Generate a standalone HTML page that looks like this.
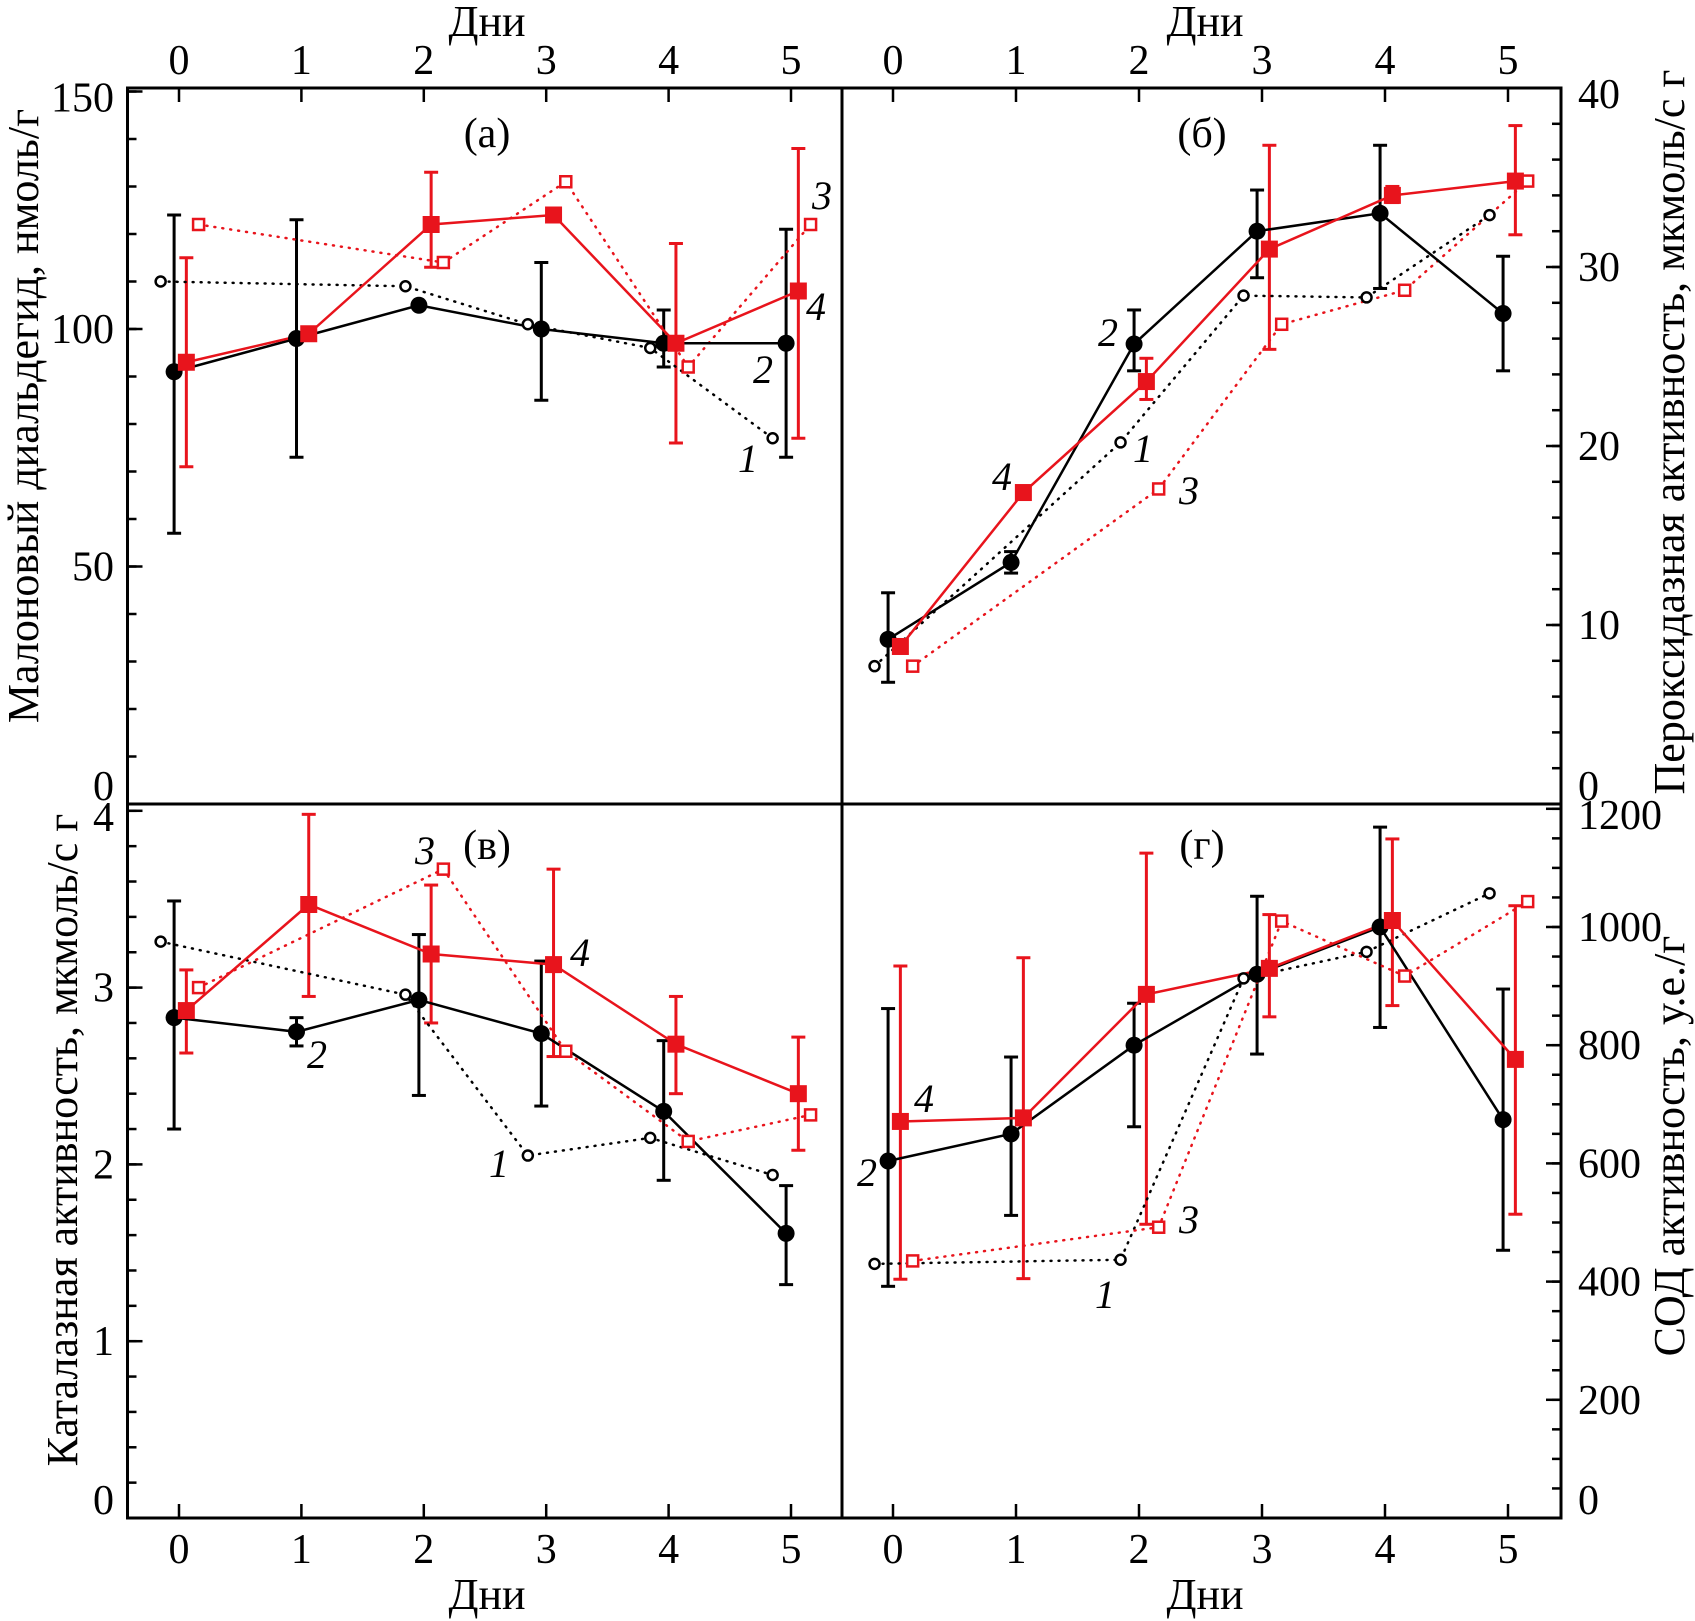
<!DOCTYPE html>
<html><head><meta charset="utf-8"><style>
html,body{margin:0;padding:0;background:#fff;}
svg{display:block;font-family:"Liberation Serif","Times New Roman",serif;}
</style></head><body>
<svg id="chart" width="1695" height="1621" viewBox="0 0 1695 1621" xmlns="http://www.w3.org/2000/svg"></svg>
<script>
const days = [0,1,2,3,4,5];
const dayLabels = ["0","1","2","3","4","5"];
// Panel a: malondialdehyde
const aS1 = [110,null,109,101,96,77];
const aS2 = [91,98,105,100,97,97];
const aS2lo = [57,73,null,85,92,73];
const aS2hi = [124,123,null,114,104,121];
const aS4 = [93,99,122,124,97,108];
const aS4lo = [71,null,113,null,76,77];
const aS4hi = [115,null,133,null,118,138];
const aS3 = [122,null,114,131,92,122];
const aTicks = [0,50,100,150];
// Panel b: peroxidase
const bS1 = [7.7,null,20.2,28.4,28.3,32.9];
const bS2 = [9.2,13.5,25.7,32,33,27.4];
const bS2lo = [6.8,12.9,24.2,29.4,28.8,24.2];
const bS2hi = [11.8,14.1,27.6,34.3,36.8,30.6];
const bS4 = [8.8,17.4,23.6,31,34,34.8];
const bS4lo = [null,null,22.6,25.4,33.6,31.8];
const bS4hi = [null,null,24.9,36.8,34.5,37.9];
const bS3 = [7.7,null,17.6,26.8,28.7,34.8];
const bTicks = [0,10,20,30,40];
// Panel c: catalase
const cS1 = [3.26,null,2.96,2.05,2.15,1.94];
const cS2 = [2.83,2.75,2.93,2.74,2.3,1.61];
const cS2lo = [2.2,2.67,2.39,2.33,1.91,1.32];
const cS2hi = [3.49,2.83,3.3,3.15,2.7,1.88];
const cS4 = [2.87,3.47,3.19,3.13,2.68,2.4];
const cS4lo = [2.63,2.95,2.8,2.61,2.4,2.08];
const cS4hi = [3.1,3.98,3.58,3.67,2.95,2.72];
const cS3 = [3.0,null,3.67,2.64,2.13,2.28];
const cTicks = [0,1,2,3,4];
// Panel d: SOD
const dS1 = [430,null,437,913,958,1057];
const dS2 = [604,650,800,920,1000,674];
const dS2lo = [392,512,662,785,830,453];
const dS2hi = [862,780,871,1052,1169,895];
const dS4 = [671,677,886,930,1011,776];
const dS4lo = [404,405,497,848,867,514];
const dS4hi = [934,948,1125,1021,1149,1036];
const dS3 = [435,null,492,1010,917,1043];
const dTicks = [0,200,400,600,800,1000,1200];

const NS="http://www.w3.org/2000/svg";
const svg=document.getElementById('chart');
function mk(tag,attrs,parent){const e=document.createElementNS(NS,tag);for(const k in attrs)e.setAttribute(k,attrs[k]);(parent||svg).appendChild(e);return e;}
const L=127.5,MX=842,R=1561,T=88,MY=804,B=1518;
const RED="#e8141c";
const off={s1:-0.15,s2:-0.04,s4:0.06,s3:0.16};
const panels=[
 {key:'a',x:d=>179+d*122.4,y:v=>804-v*4.75,s1:aS1,s2:aS2,s2lo:aS2lo,s2hi:aS2hi,s4:aS4,s4lo:aS4lo,s4hi:aS4hi,s3:aS3},
 {key:'b',x:d=>893+d*123,y:v=>804-v*17.9,s1:bS1,s2:bS2,s2lo:bS2lo,s2hi:bS2hi,s4:bS4,s4lo:bS4lo,s4hi:bS4hi,s3:bS3},
 {key:'c',x:d=>179+d*122.4,y:v=>1518-v*176.8,s1:cS1,s2:cS2,s2lo:cS2lo,s2hi:cS2hi,s4:cS4,s4lo:cS4lo,s4hi:cS4hi,s3:cS3},
 {key:'d',x:d=>893+d*123,y:v=>1518-v*0.591,s1:dS1,s2:dS2,s2lo:dS2lo,s2hi:dS2hi,s4:dS4,s4lo:dS4lo,s4hi:dS4hi,s3:dS3}
];
const fr=mk('g',{});


mk('rect',{x:L,y:T,width:R-L,height:B-T,fill:'none',stroke:'#000','stroke-width':3},fr);
mk('line',{x1:MX,y1:T,x2:MX,y2:B,stroke:'#000','stroke-width':3},fr);
mk('line',{x1:L,y1:MY,x2:R,y2:MY,stroke:'#000','stroke-width':3},fr);

function txt(s,x,y,size,anchor,parent,extra){const t=mk('text',Object.assign({x:x,y:y,'font-size':size,'text-anchor':anchor||'middle',fill:'#000'},extra||{}),parent);t.textContent=s;return t;}

const xa=mk('g',{});


[panels[0],panels[1]].forEach(p=>{days.forEach((d,i)=>{const x=p.x(d);mk('line',{x1:x,y1:T,x2:x,y2:T+14,stroke:'#000','stroke-width':2.5},xa);const t=txt(dayLabels[i],x,74,42,'middle',xa);});});
[panels[2],panels[3]].forEach(p=>{days.forEach((d,i)=>{const x=p.x(d);mk('line',{x1:x,y1:B,x2:x,y2:B-14,stroke:'#000','stroke-width':2.5},xa);const t=txt(dayLabels[i],x,1563,42,'middle',xa);});});
[487,1205].forEach(x=>{const t=txt('Дни',x,36,44,'middle',xa);});
[487,1205].forEach(x=>{const t=txt('Дни',x,1609,44,'middle',xa);});

function yAxis(p,ticks,minorStep,left,name){
 const g=mk('g',{});
 
 
 const x0=left?L:R, dir=left?1:-1;
 const lo=ticks[0],hi=ticks[ticks.length-1];
 for(let v=lo;v<=hi+1e-9;v+=minorStep){const y=p.y(v);mk('line',{x1:x0,y1:y,x2:x0+dir*9,y2:y,stroke:'#000','stroke-width':2.5},g);}
 ticks.forEach(v=>{const y=p.y(v);mk('line',{x1:x0,y1:y,x2:x0+dir*15,y2:y,stroke:'#000','stroke-width':2.5},g);
  txt(String(v),left?114:1578,y+14-(v===lo?18:0)+(v===hi?6:0),42,left?'end':'start',g);});
}
yAxis(panels[0],aTicks,10,true,'y-axis-a');
yAxis(panels[1],bTicks,2,false,'y-axis-b');
yAxis(panels[2],cTicks,0.2,true,'y-axis-c');
yAxis(panels[3],dTicks,50,false,'y-axis-d');

function vtitle(s,x,y,name){const t=txt(s,x,y,44,'middle',svg,{transform:'rotate(-90 '+x+' '+y+')'});}
vtitle('Малоновый диальдегид, нмоль/г',38,416,'y-axis-title-a');
vtitle('Каталазная активность, мкмоль/с г',77,1140,'y-axis-title-c');
vtitle('Пероксидазная активность, мкмоль/с г',1684,432,'y-axis-title-b');
vtitle('СОД активность, у.е./г',1684,1146,'y-axis-title-d');

panels.forEach(p=>{
 const g=mk('g',{});
 
 
 function pts(arr,o){const r=[];arr.forEach((v,i)=>{if(v!==null)r.push([p.x(days[i]+o),p.y(v)]);});return r;}
 function line(arr,o,color,dotted,name){const ps=pts(arr,o);const l=mk('polyline',{points:ps.map(q=>q.join(',')).join(' '),fill:'none',stroke:color,'stroke-width':dotted?2.5:2.5,'stroke-dasharray':dotted?'1 7':'none','stroke-linecap':dotted?'round':'butt'},g);return ps;}
 function err(lo,hi,o,color,name){lo.forEach((v,i)=>{if(v===null)return;const x=p.x(days[i]+o),y1=p.y(v),y2=p.y(hi[i]);const e=mk('g',{},g);
  mk('line',{x1:x,y1:y1,x2:x,y2:y2,stroke:color,'stroke-width':3},e);mk('line',{x1:x-7,y1:y1,x2:x+7,y2:y1,stroke:color,'stroke-width':3},e);mk('line',{x1:x-7,y1:y2,x2:x+7,y2:y2,stroke:color,'stroke-width':3},e);});}
 err(p.s2lo,p.s2hi,off.s2,'#000','error-bar-series-2');
 err(p.s4lo,p.s4hi,off.s4,RED,'error-bar-series-4');
 const p1=line(p.s1,off.s1,'#000',true,'line-series-1');
 const p3=line(p.s3,off.s3,RED,true,'line-series-3');
 const p2=line(p.s2,off.s2,'#000',false,'line-series-2');
 const p4=line(p.s4,off.s4,RED,false,'line-series-4');
 p1.forEach(q=>{const c=mk('circle',{cx:q[0],cy:q[1],r:5,fill:'#fff',stroke:'#000','stroke-width':2.5},g);});
 p3.forEach(q=>{const c=mk('rect',{x:q[0]-5.5,y:q[1]-5.5,width:11,height:11,fill:'#fff',stroke:RED,'stroke-width':2.5},g);});
 p2.forEach(q=>{const c=mk('circle',{cx:q[0],cy:q[1],r:8.5,fill:'#000'},g);});
 p4.forEach(q=>{const c=mk('rect',{x:q[0]-8.5,y:q[1]-8.5,width:17,height:17,fill:RED},g);});
});

[['(а)',487,147],['(б)',1202,147],['(в)',487,859],['(г)',1202,859]].forEach(a=>{const t=txt(a[0],a[1],a[2],42,'middle');});
const nums=[['1',748,472],['2',763,383],['3',822,209],['4',816,320],
 ['2',1108,346],['1',1143,462],['4',1002,490],['3',1189,504],
 ['3',425,864],['2',317,1068],['4',580,966],['1',499,1177],
 ['4',924,1112],['2',867,1186],['3',1189,1233],['1',1105,1308]];
nums.forEach(a=>{const t=txt(a[0],a[1],a[2],40,'middle',svg,{'font-style':'italic'});});
</script>
</body></html>
